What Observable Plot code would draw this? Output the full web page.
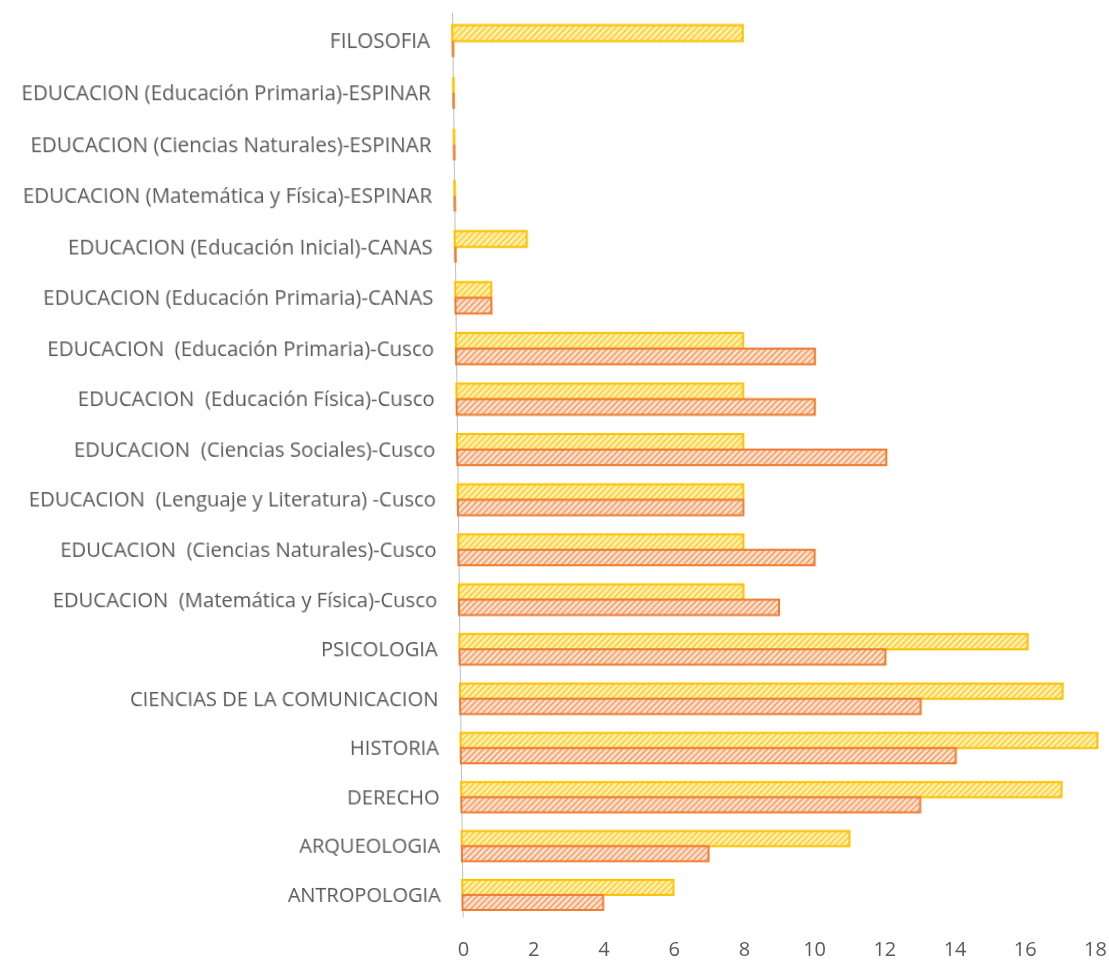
<!DOCTYPE html>
<html><head><meta charset="utf-8">
<script src="https://cdn.jsdelivr.net/npm/d3@7"></script>
<script src="https://cdn.jsdelivr.net/npm/@observablehq/plot@0.6"></script>
<style>
body{margin:0;background:#fff;overflow:hidden;}
#chart{width:1109px;height:960px;transform:perspective(1402px) rotateX(-3deg);transform-origin:777px 946px;}
#chart svg{display:block;overflow:visible;}
</style></head>
<body>
<svg width="0" height="0" style="position:absolute">
<defs>
<pattern id="hatchY" patternUnits="userSpaceOnUse" width="6" height="6">
<rect width="6" height="6" fill="#fff3c2"/>
<path d="M-1,1 l2,-2 M0,6 l6,-6 M5,7 l2,-2" stroke="#ffd02e" stroke-width="1.9"/>
</pattern>
<pattern id="hatchO" patternUnits="userSpaceOnUse" width="6" height="6">
<rect width="6" height="6" fill="#fde4d2"/>
<path d="M-1,1 l2,-2 M0,6 l6,-6 M5,7 l2,-2" stroke="#f3a06a" stroke-width="1.7"/>
</pattern>
</defs>
</svg>
<div id="chart"></div>
<script>
const categories = [
  "FILOSOFIA",
  "EDUCACION (Educación Primaria)-ESPINAR",
  "EDUCACION (Ciencias Naturales)-ESPINAR",
  "EDUCACION (Matemática y Física)-ESPINAR",
  "EDUCACION (Educación Inicial)-CANAS",
  "EDUCACION (Educación Primaria)-CANAS",
  "EDUCACION  (Educación Primaria)-Cusco",
  "EDUCACION  (Educación Física)-Cusco",
  "EDUCACION  (Ciencias Sociales)-Cusco",
  "EDUCACION  (Lenguaje y Literatura) -Cusco",
  "EDUCACION  (Ciencias Naturales)-Cusco",
  "EDUCACION  (Matemática y Física)-Cusco",
  "PSICOLOGIA",
  "CIENCIAS DE LA COMUNICACION",
  "HISTORIA",
  "DERECHO",
  "ARQUEOLOGIA",
  "ANTROPOLOGIA"
];
const seriesYellow = [8,0,0,0,2,1,8,8,8,8,8,8,16,17,18,17,11,6];
const seriesOrange = [0,0,0,0,0,1,10,10,12,8,10,9,12,13,14,13,7,4];
const xTicks = [0,2,4,6,8,10,12,14,16,18];

const dataY = categories.map((c,i)=>({cat:c, v:seriesYellow[i]}));
const dataO = categories.map((c,i)=>({cat:c, v:seriesOrange[i]}));

const plot = Plot.plot({
  width: 1109,
  height: 960,
  marginLeft: 463,
  marginRight: 14,
  marginTop: 36,
  marginBottom: 31.5,
  style: {fontFamily: "'Open Sans', sans-serif", fontSize: "20px", color: "#595959", background: "transparent"},
  x: {domain: [0, 18], ticks: xTicks, tickSize: 0, tickPadding: 13, label: null, tickFormat: d => d},
  y: {domain: categories, padding: 0.382, round: false, tickSize: 0, tickPadding: 22, label: null},
  marks: [
    Plot.ruleX([0], {stroke: "#bfbfbf", strokeWidth: 1, insetTop: 7, insetBottom: 11}),
    Plot.barX(dataY.filter(d=>d.v>0), {x: "v", y: "cat", fill: "url(#hatchY)", stroke: "#ffc000", strokeWidth: 2, insetBottom: 15}),
    Plot.barX(dataO.filter(d=>d.v>0), {x: "v", y: "cat", fill: "url(#hatchO)", stroke: "#ed7d31", strokeWidth: 2, insetTop: 15}),
    Plot.tickX(dataY.filter(d=>d.v===0), {x: "v", y: "cat", stroke: "#ffc000", strokeWidth: 2.5, insetBottom: 15}),
    Plot.tickX(dataO.filter(d=>d.v===0), {x: "v", y: "cat", stroke: "#ed7d31", strokeWidth: 2.5, insetTop: 15})
  ]
});
document.getElementById("chart").appendChild(plot);
</script>
</body></html>
